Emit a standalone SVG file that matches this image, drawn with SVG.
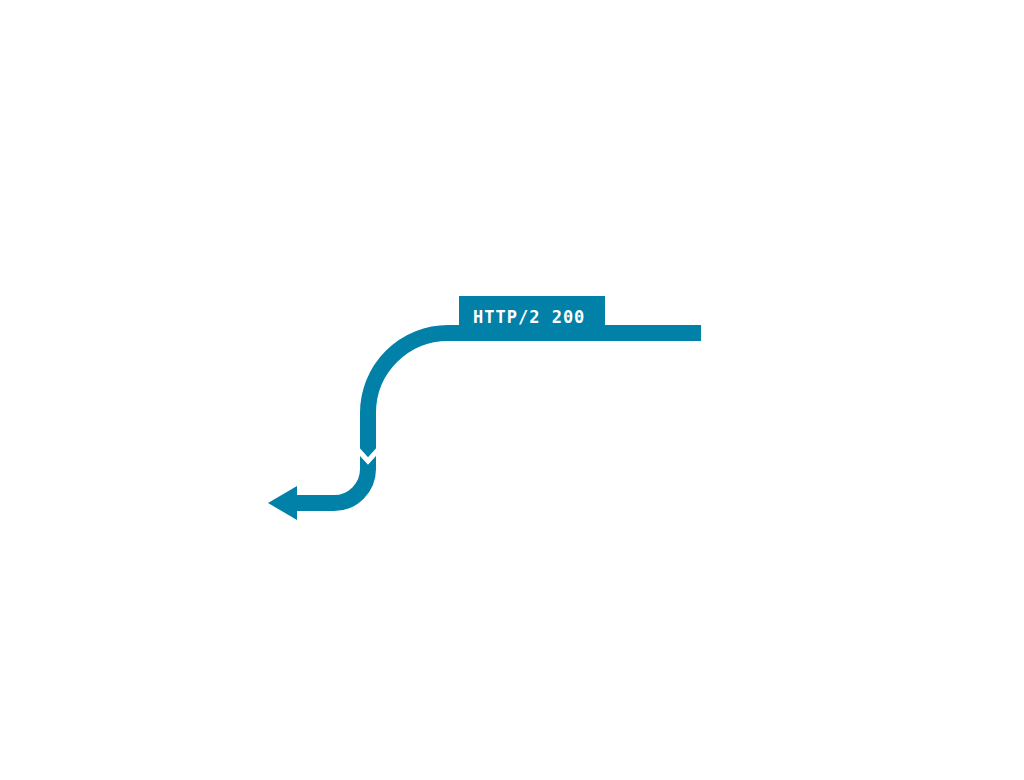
<svg xmlns="http://www.w3.org/2000/svg" width="1024" height="780" viewBox="0 0 1024 780">
  <style>
    .flow { fill: none; stroke: #0180a8; stroke-width: 16; stroke-linecap: butt; }
    .head { fill: #0180a8; }
    .gap { fill: none; stroke: #ffffff; stroke-width: 5; stroke-linecap: butt; }
    .lbl { fill: #ffffff; font-family: "DejaVu Sans Mono", "Liberation Mono", monospace; font-weight: bold; font-size: 17px; letter-spacing: 1px; }
  </style>
  <rect width="1024" height="780" fill="#ffffff"/>
  <g id="connectors">
    <path class="flow" d="M 701 333 H 448 A 80 80 0 0 0 368 413 V 469 A 34 34 0 0 1 334 503 H 295"/>
    <polygon class="head" points="268,503 297,486 297,520"/>
    <polyline class="gap" points="358,450 368,461 378,450"/>
  </g>
  <g id="label">
    <rect x="459" y="296" width="146" height="30" fill="#0180a8"/>
    <text class="lbl" x="473" y="323">HTTP/2 200</text>
  </g>
</svg>
